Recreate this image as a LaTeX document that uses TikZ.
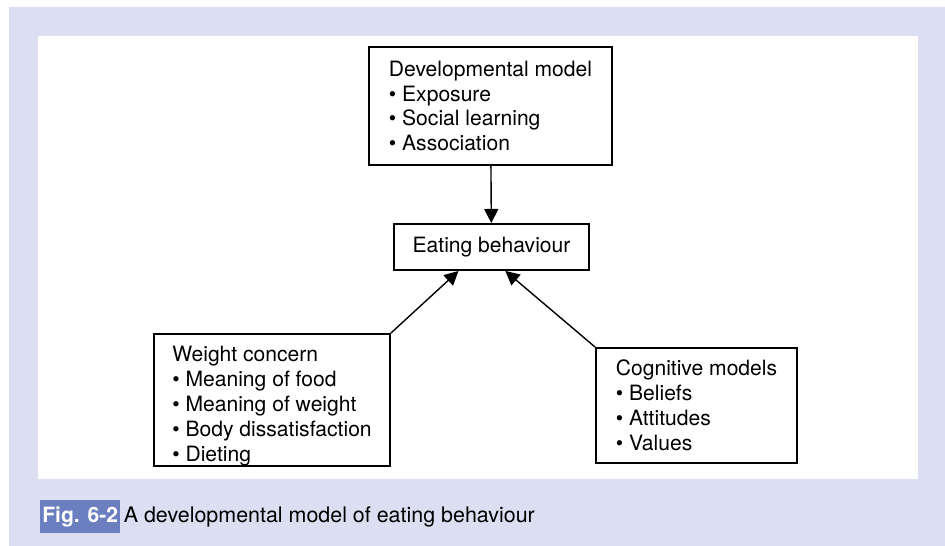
\documentclass[tikz,border=0pt]{standalone}
\usepackage{fontspec}
\setmainfont{TeX Gyre Heros}
\usetikzlibrary{arrows.meta}
\usetikzlibrary{positioning}

\definecolor{panel}{RGB}{220,223,241}
\definecolor{figblue}{RGB}{107,127,192}

\begin{document}
\begin{tikzpicture}
        [x=0.02cm, y=0.02cm,
         every node/.style={font=\fontsize{12}{14.2}\selectfont},
         box/.style={draw, line width=1.1pt, align=left, fill=white},
         arr/.style={line width=0.8pt, -{Triangle[length=8pt,width=8pt]}}]
        \useasboundingbox (0,0) rectangle (945,546);
        \fill [panel] (9,0) rectangle (945,539);
        \fill [white] (38,67) rectangle (918,510);
        \node [box, minimum width=4.86cm, minimum height=2.36cm] (dev) at (490.5,440)
            {Developmental model\\\textbullet{} Exposure\\\textbullet{} Social learning\\\textbullet{} Association};
        \node [box, align=center, minimum width=3.9cm, minimum height=0.92cm] (eat) at (491.5,299) {Eating behaviour};
        \node [box, minimum width=4.72cm, minimum height=2.64cm, inner ysep=0pt] (weight) at (272,146)
            {\rule{0pt}{15.3pt}Weight concern\\\textbullet{} Meaning of food\\\textbullet{} Meaning of weight\\\textbullet{} Body dissatisfaction\\\textbullet{} Dieting};
        \node [box, minimum width=4.02cm, minimum height=2.3cm] (cog) at (696.5,140.5)
            {Cognitive models\\\textbullet{} Beliefs\\\textbullet{} Attitudes\\\textbullet{} Values};
        \draw [arr] (dev) -- (eat);
        \draw [arr] (weight.north east) -- (eat.216);
        \draw [arr] (cog.north west) -- (eat.300);
        \node [anchor=west, fill=figblue, text=white, inner xsep=0.04cm, minimum height=0.54cm] (fig) at (40,29.5) {\bfseries Fig. 6-2};
        \node [anchor=base west, inner xsep=1.7pt, font=\fontsize{12.2}{14.2}\selectfont] (cap) at (fig.base east) {A developmental model of eating behaviour};
    \end{tikzpicture}
\end{document}
